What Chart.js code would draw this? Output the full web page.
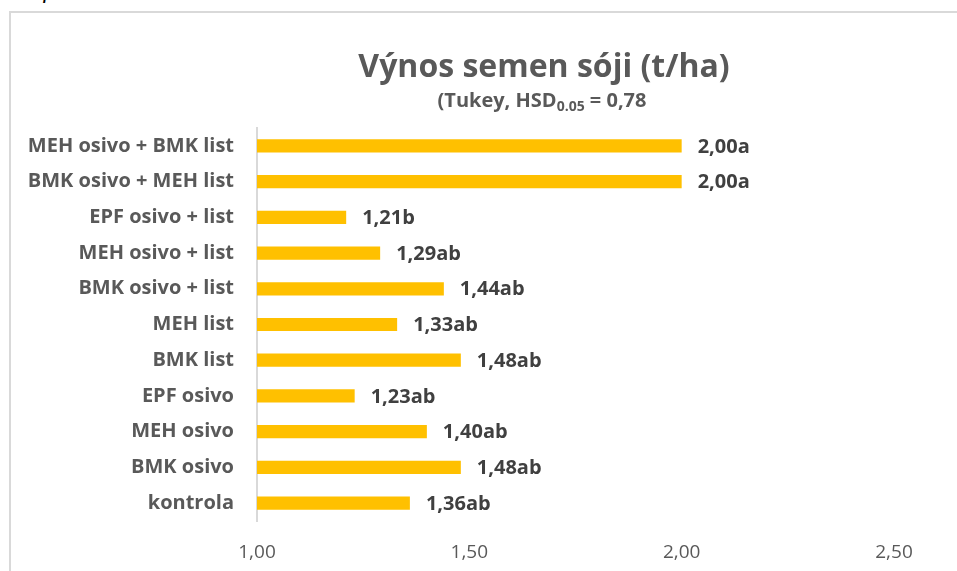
<!DOCTYPE html>
<html>
<head>
<meta charset="utf-8">
<script src="https://cdn.jsdelivr.net/npm/chart.js@4"></script>
<style>
    html, body { margin: 0; padding: 0; background: #fff; overflow: hidden; width: 957px; height: 571px; }
    .caption { position: absolute; left: 4px; top: -23px; font: italic 24px "Liberation Serif", serif; color: #000; }
    .box { position: absolute; left: 9px; top: 11px; width: 980px; height: 600px; border: 2px solid #d9d9d9; }
    canvas { display: block; }
</style>
</head>
<body>
<div class="caption">Graf 1:</div>
<div class="box">
    <canvas id="soyChart" width="946" height="560" style="width:946px;height:560px"></canvas>
</div>
<script>
// Categories (top to bottom)
const categories = [
    'MEH osivo + BMK list',
    'BMK osivo + MEH list',
    'EPF osivo + list',
    'MEH osivo + list',
    'BMK osivo + list',
    'MEH list',
    'BMK list',
    'EPF osivo',
    'MEH osivo',
    'BMK osivo',
    'kontrola'
];
const yields = [2.00, 2.00, 1.21, 1.29, 1.44, 1.33, 1.48, 1.23, 1.40, 1.48, 1.36];
const groups = ['a', 'a', 'b', 'ab', 'ab', 'ab', 'ab', 'ab', 'ab', 'ab', 'ab'];
const xTicks = [1.00, 1.50, 2.00, 2.50];

const titleText = 'Výnos semen sóji (t/ha)';
const subtitleParts = ['(Tukey, HSD', '0.05', ' = 0,78'];

const FONT = '"Open Sans", sans-serif';
const fmt = v => v.toFixed(2).replace('.', ',');

// Title + subtitle with subscript
const titlePlugin = {
    id: 'titlePlugin',
    afterDraw(chart) {
        const ctx = chart.ctx;
        ctx.save();
        ctx.fillStyle = '#595959';
        ctx.textBaseline = 'alphabetic';
        ctx.textAlign = 'center';
        ctx.font = 'bold 32px ' + FONT;
        ctx.fillText(titleText, 533, 64);

        ctx.textAlign = 'left';
        const mainFont = 'bold 20px ' + FONT;
        const subFont = 'bold 14px ' + FONT;
        ctx.font = mainFont;
        const w1 = ctx.measureText(subtitleParts[0]).width;
        const w3 = ctx.measureText(subtitleParts[2]).width;
        ctx.font = subFont;
        const w2 = ctx.measureText(subtitleParts[1]).width;
        let x = 531 - (w1 + w2 + w3) / 2;
        ctx.font = mainFont;
        ctx.fillText(subtitleParts[0], x, 94);
        x += w1;
        ctx.font = subFont;
        ctx.fillText(subtitleParts[1], x, 98);
        x += w2;
        ctx.font = mainFont;
        ctx.fillText(subtitleParts[2], x, 94);
        ctx.restore();
    }
};

// Value labels to the right of each bar
const valueLabels = {
    id: 'valueLabels',
    afterDatasetsDraw(chart) {
        const ctx = chart.ctx;
        const meta = chart.getDatasetMeta(0);
        ctx.save();
        ctx.fillStyle = '#404040';
        ctx.font = 'bold 20px ' + FONT;
        ctx.textAlign = 'left';
        ctx.textBaseline = 'middle';
        meta.data.forEach((bar, i) => {
            ctx.fillText(fmt(yields[i]) + groups[i], bar.x + 16, bar.y + 1);
        });
        ctx.restore();
    }
};

new Chart(document.getElementById('soyChart'), {
    type: 'bar',
    data: {
        labels: categories,
        datasets: [{
            data: yields,
            backgroundColor: '#FFC000',
            borderWidth: 0,
            categoryPercentage: 1,
            barPercentage: 0.37
        }]
    },
    options: {
        indexAxis: 'y',
        responsive: false,
        animation: false,
        layout: { padding: { top: 115, right: 63, left: 0, bottom: 0 } },
        plugins: {
            legend: { display: false },
            tooltip: { enabled: false }
        },
        scales: {
            x: {
                min: 1,
                max: 2.5,
                afterBuildTicks: axis => { axis.ticks = xTicks.map(v => ({ value: v })); },
                grid: { display: false, drawTicks: false },
                border: { display: false },
                ticks: {
                    padding: 20,
                    color: '#595959',
                    font: { family: FONT, size: 19 },
                    callback: v => fmt(v)
                },
                afterFit: axis => { axis.height = 52; }
            },
            y: {
                grid: { display: false, drawTicks: false },
                border: { display: true, color: '#d9d9d9', width: 2 },
                ticks: {
                    padding: 23,
                    color: '#595959',
                    font: { family: FONT, size: 20, weight: 'bold' }
                },
                afterFit: axis => { axis.width = 246; }
            }
        }
    },
    plugins: [titlePlugin, valueLabels]
});
</script>
</body>
</html>
